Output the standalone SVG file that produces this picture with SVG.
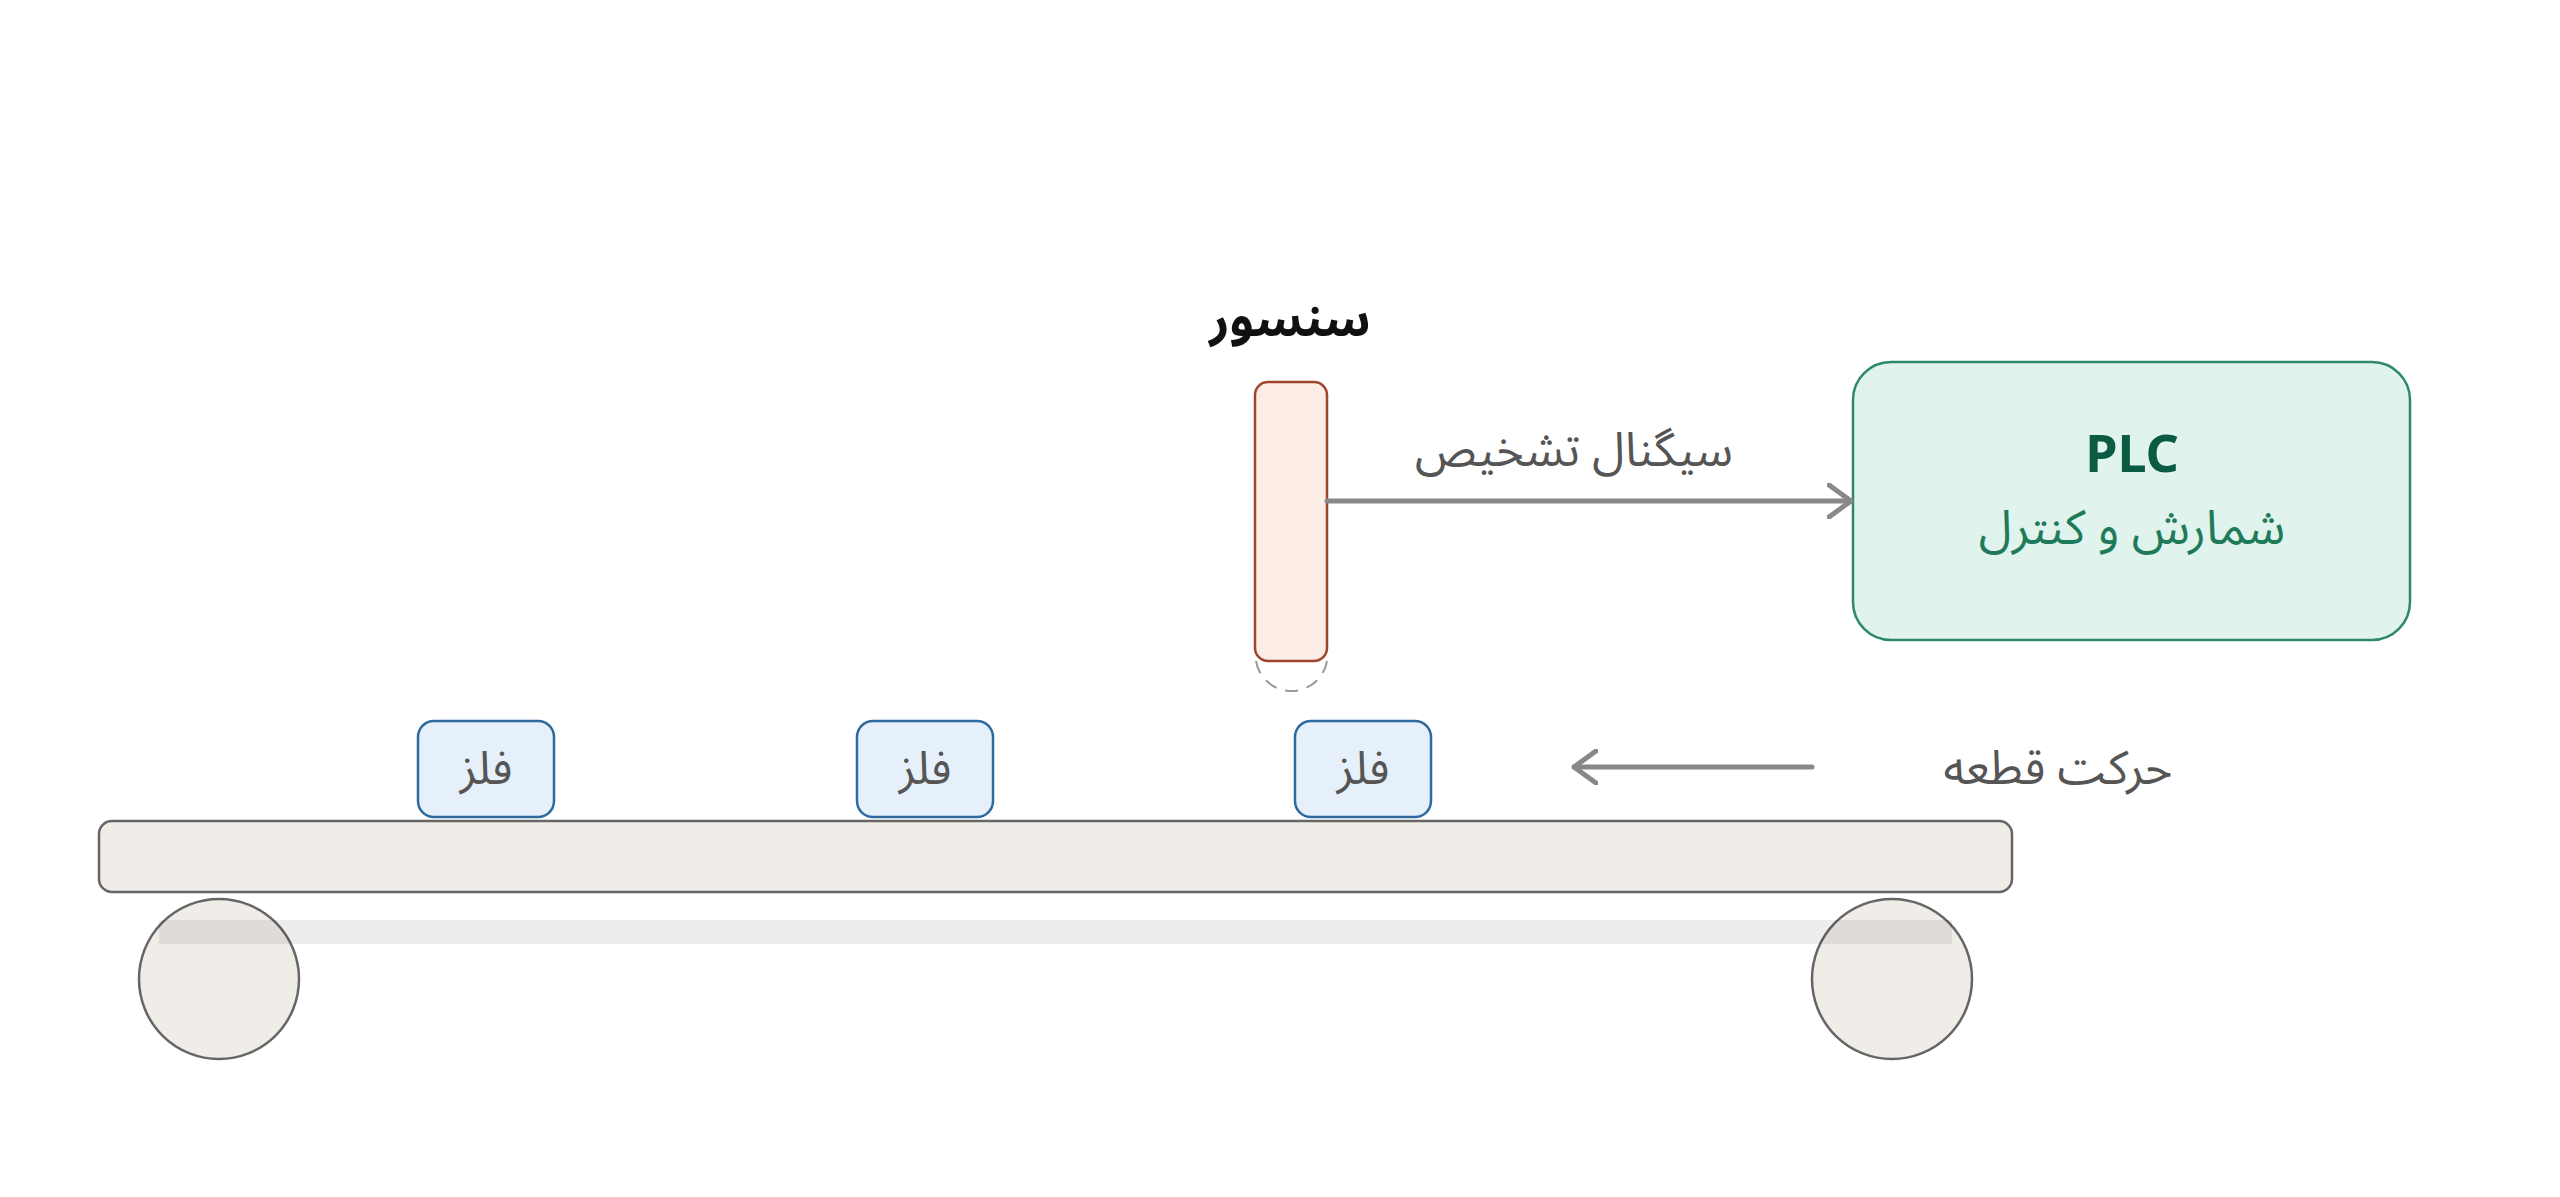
<svg xmlns="http://www.w3.org/2000/svg" width="2560" height="1197" viewBox="0 0 2560 1197">
<style>
  text { font-family: "Noto Sans", "Noto Sans Arabic", "Noto Sans Arabic UI", "DejaVu Sans", sans-serif; text-anchor: middle; }
  .roller { fill: #f0ede8; stroke: #666666; stroke-width: 2.5; }
  .metal rect { fill: #e6f0fa; stroke: #2e6aa0; stroke-width: 2.5; }
  .metal text { font-size: 46px; fill: #555555; }
  .lbl { font-size: 47px; fill: #555555; }
  .conn { stroke: #888888; stroke-width: 5; fill: none; stroke-linecap: round; stroke-linejoin: round; }
</style>
<defs>
  <marker id="arr" viewBox="0 0 26 36" refX="24" refY="18" markerWidth="26" markerHeight="36" markerUnits="userSpaceOnUse" orient="auto">
    <path d="M2 2 L24 18 L2 34" fill="none" stroke="#888888" stroke-width="5" stroke-linecap="round" stroke-linejoin="round"/>
  </marker>
</defs>
<rect width="2560" height="1197" fill="#ffffff"/>

<g id="conveyor">
  <circle class="roller" cx="219" cy="979" r="80"/>
  <circle class="roller" cx="1892" cy="979" r="80"/>
  <rect x="159" y="920" width="1793" height="24" fill="#000000" fill-opacity="0.07"/>
  <rect x="99" y="821" width="1913" height="71" rx="13" fill="#f0ede8" stroke="#666666" stroke-width="2.5"/>
</g>

<g id="metal1" class="metal">
  <rect x="418" y="721" width="136" height="96" rx="16"/>
  <text x="486" y="784">فلز</text>
</g>
<g id="metal2" class="metal">
  <rect x="857" y="721" width="136" height="96" rx="16"/>
  <text x="925" y="784">فلز</text>
</g>
<g id="metal3" class="metal">
  <rect x="1295" y="721" width="136" height="96" rx="16"/>
  <text x="1363" y="784">فلز</text>
</g>

<g id="sensor">
  <text x="1290" y="336" font-size="49" font-weight="bold" fill="#111111">سنسور</text>
  <rect x="1255" y="382" width="72" height="279" rx="13" fill="#fbece6" stroke="#a0442a" stroke-width="2.5"/>
  <path d="M1256 661 A36 36 0 0 0 1327 661" fill="none" stroke="#999999" stroke-width="2" stroke-dasharray="13 9"/>
</g>

<g id="plc">
  <rect x="1853" y="362" width="557" height="278" rx="38" fill="#e0f3ec" stroke="#2e8a66" stroke-width="2.5"/>
  <text x="2132" y="472" font-size="52" font-weight="bold" fill="#0b5a43">PLC</text>
  <text x="2132" y="544" font-size="48" fill="#1f7a5a">شمارش و کنترل</text>
</g>

<g id="connectors">
  <line class="conn" x1="1327" y1="501" x2="1851" y2="501" marker-end="url(#arr)"/>
  <text class="lbl" x="1574" y="466">سیگنال تشخیص</text>
  <line class="conn" x1="1812" y1="767" x2="1574" y2="767" marker-end="url(#arr)"/>
  <text class="lbl" x="2058" y="784">حرکت قطعه</text>
</g>
</svg>
